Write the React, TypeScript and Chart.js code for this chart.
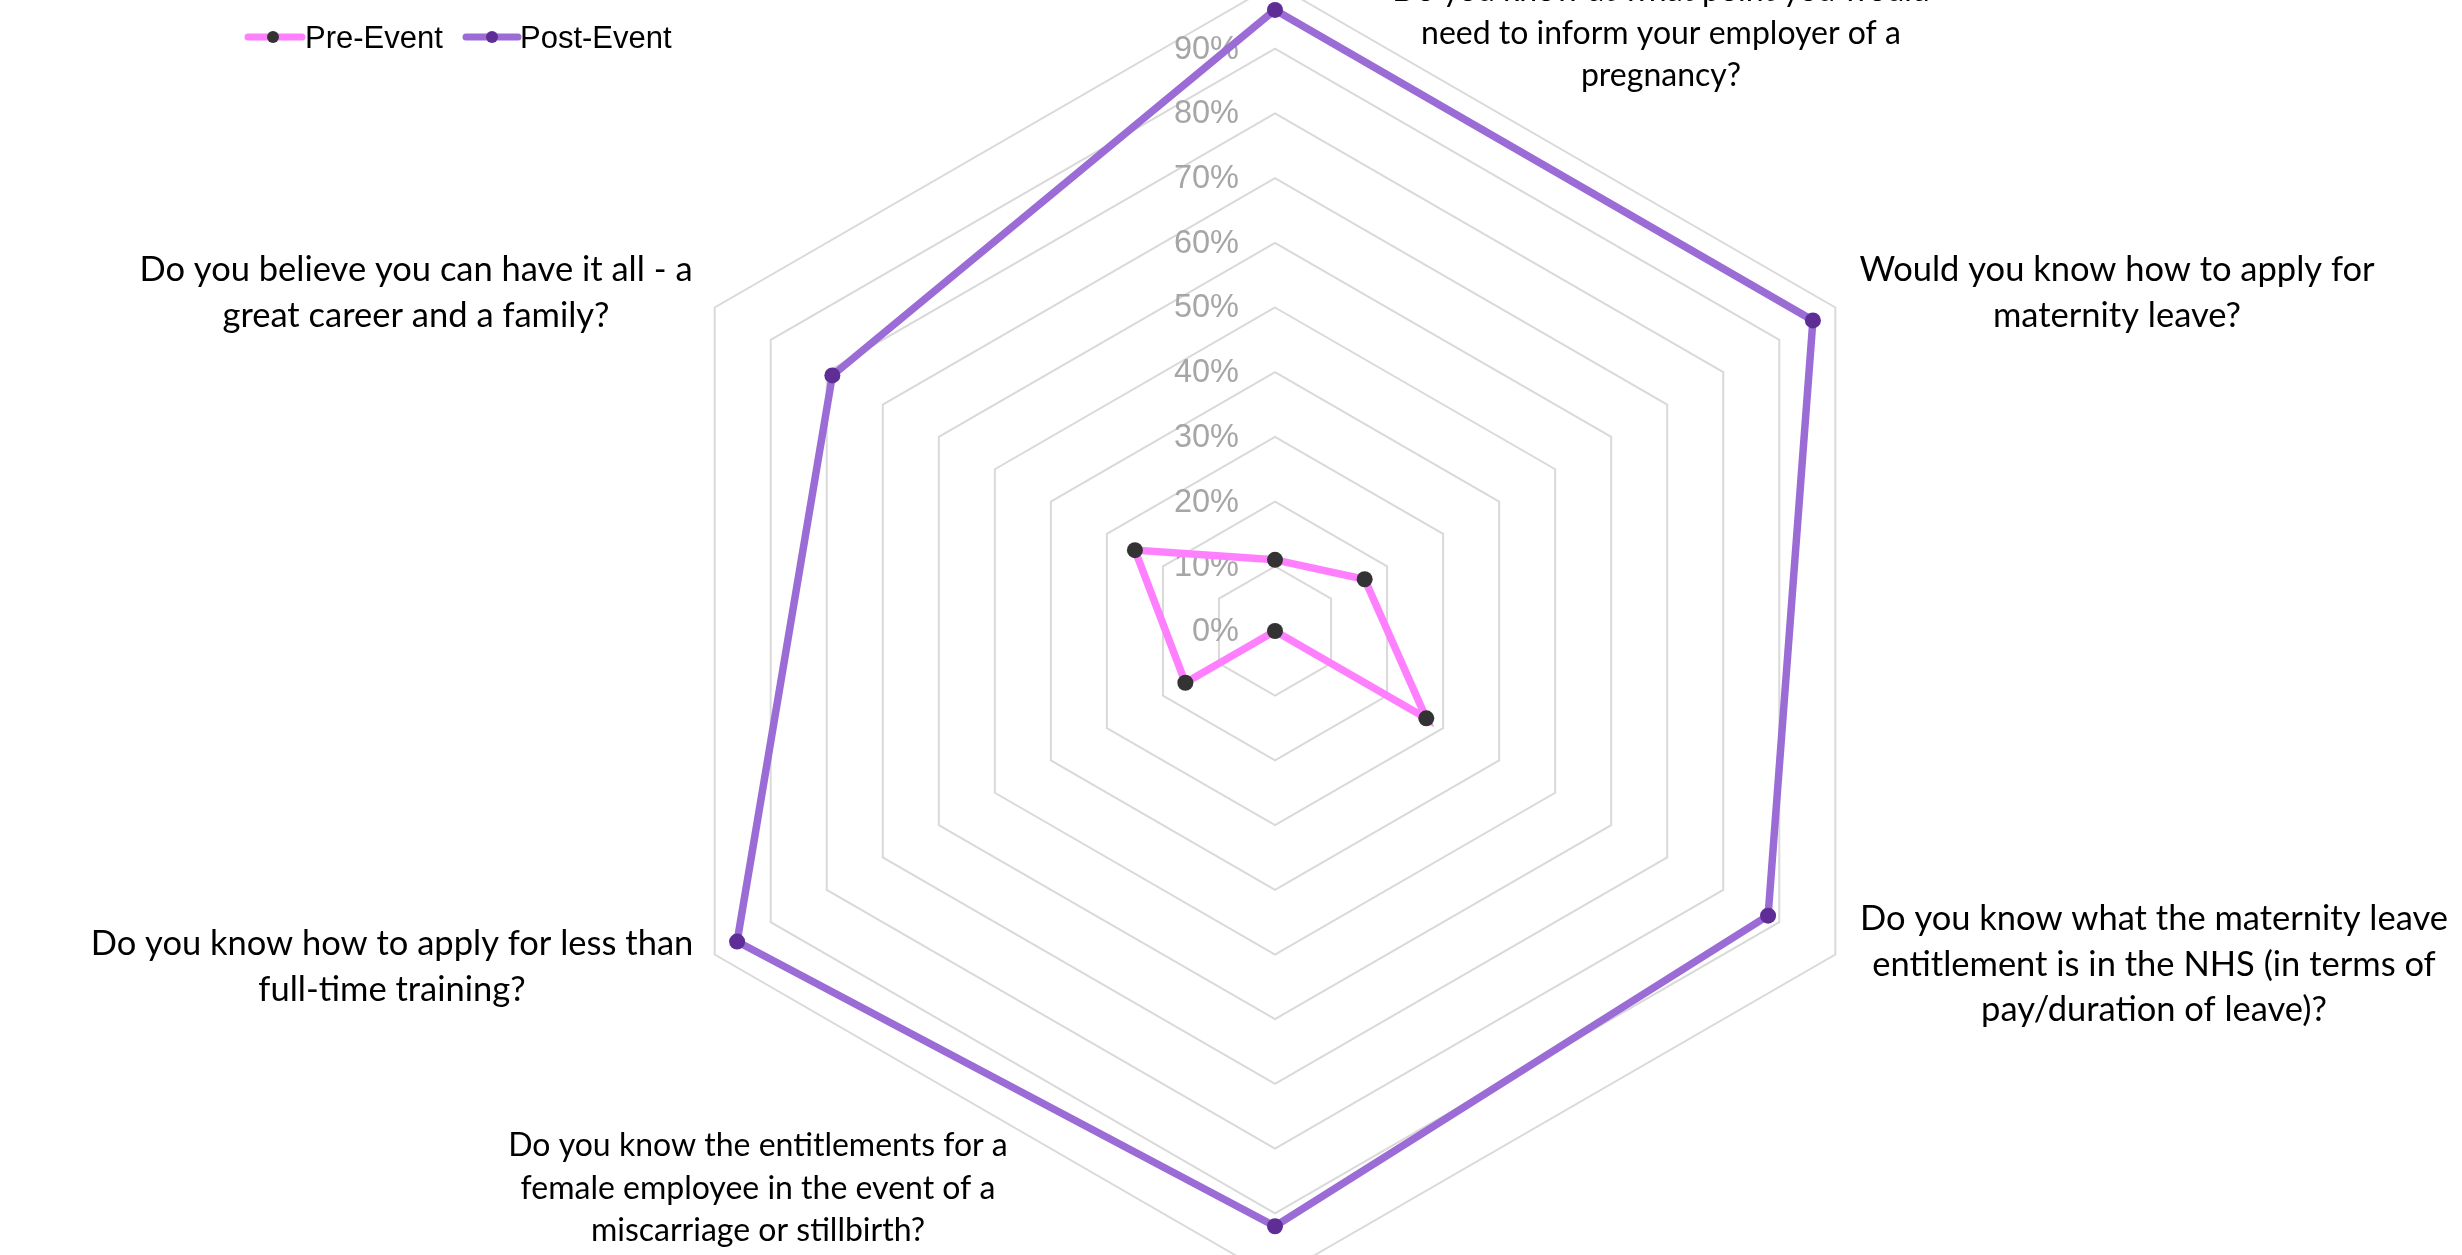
import React, { useEffect, useRef } from "react";
import { Chart, registerables } from "chart.js";

Chart.register(...registerables);

// ---- data ----
const CATEGORIES: string[][] = [
  ["Do you know at what point you would", "need to inform your employer of a", "pregnancy?"],
  ["Would you know how to apply for", "maternity leave?"],
  ["Do you know what the maternity leave", "entitlement is in the NHS (in terms of", "pay/duration of leave)?"],
  ["Do you know the entitlements for a", "female employee in the event of a", "miscarriage or stillbirth?"],
  ["Do you know how to apply for less than", "full-time training?"],
  ["Do you believe you can have it all - a", "great career and a family?"],
];
const SERIES_NAMES = ["Pre-Event", "Post-Event"];
const PRE_EVENT = [11, 16, 27, 0, 16, 25];
const POST_EVENT = [96, 96, 88, 92, 96, 79];
const AXIS_MIN = 0;
const AXIS_MAX = 100;
const AXIS_STEP = 10;

// ---- style / layout ----
const LINE_COLORS = ["#ff80ff", "#9b6bd6"];
const POINT_COLORS = ["#333333", "#5f2d96"];
const GRID_COLOR = "#d9d9d9";
const TICK_COLOR = "#a6a6a6";
// label anchors relative to the scale centre (px): centre x, first line y, line height, font size
const LABEL_LAYOUT = [
  { dx: 386, dy: -640, lh: 42.4, fs: 32 },
  { dx: 842, dy: -361, lh: 45.5, fs: 34.5 },
  { dx: 879, dy: 288, lh: 45.5, fs: 34.5 },
  { dx: -517, dy: 515, lh: 42.5, fs: 32 },
  { dx: -883, dy: 313, lh: 45.5, fs: 34.5 },
  { dx: -859, dy: -361, lh: 45.5, fs: 34.5 },
];
const CANVAS_W = 2550;
const CANVAS_H = 1294;
const CANVAS_TOP = -16;
const LEGEND_Y = 37 - CANVAS_TOP;
const LEGEND_ITEMS = [
  { x0: 248, x1: 302, dot: 273, text: 305 },
  { x0: 466, x1: 518, dot: 492, text: 520 },
];

const tickLabelPlugin = {
  id: "tickLabelsLeft",
  beforeDatasetsDraw(chart: any) {
    const s = chart.scales.r;
    const ctx = chart.ctx;
    ctx.save();
    ctx.font = '32.5px "Liberation Sans", Arial, sans-serif';
    ctx.fillStyle = TICK_COLOR;
    ctx.textAlign = "right";
    ctx.textBaseline = "middle";
    s.ticks.forEach((t: any) => {
      const d = s.getDistanceFromCenterForValue(t.value);
      ctx.fillText(`${t.value}%`, s.xCenter - 36, s.yCenter - d + 1);
    });
    ctx.restore();
  },
};

const pointLabelPlugin = {
  id: "pointLabelsCustom",
  afterDraw(chart: any) {
    const s = chart.scales.r;
    const ctx = chart.ctx;
    ctx.save();
    ctx.fillStyle = "#000000";
    ctx.textAlign = "center";
    ctx.textBaseline = "middle";
    (chart.data.labels as string[][]).forEach((lines, i) => {
      const p = LABEL_LAYOUT[i];
      ctx.font = `${p.fs}px "Lato", "Open Sans", sans-serif`;
      lines.forEach((line, k) => {
        ctx.fillText(line, s.xCenter + p.dx, s.yCenter + p.dy + k * p.lh);
      });
    });
    ctx.restore();
  },
};

const legendPlugin = {
  id: "legendCustom",
  afterDraw(chart: any) {
    const ctx = chart.ctx;
    ctx.save();
    ctx.font = '31px "Liberation Sans", Arial, sans-serif';
    ctx.textAlign = "left";
    ctx.textBaseline = "middle";
    chart.data.datasets.forEach((ds: any, i: number) => {
      const it = LEGEND_ITEMS[i];
      ctx.strokeStyle = ds.borderColor;
      ctx.lineWidth = 7;
      ctx.lineCap = "round";
      ctx.beginPath();
      ctx.moveTo(it.x0, LEGEND_Y);
      ctx.lineTo(it.x1, LEGEND_Y);
      ctx.stroke();
      ctx.fillStyle = ds.pointBackgroundColor;
      ctx.beginPath();
      ctx.arc(it.dot, LEGEND_Y, 6, 0, Math.PI * 2);
      ctx.fill();
      ctx.fillStyle = "#000000";
      ctx.fillText(ds.label, it.text, LEGEND_Y + 2);
    });
    ctx.restore();
  },
};

export default function App() {
  const ref = useRef<HTMLCanvasElement | null>(null);
  useEffect(() => {
    if (!ref.current) return;
    const chart = new Chart(ref.current, {
      type: "radar",
      data: {
        labels: CATEGORIES,
        datasets: [PRE_EVENT, POST_EVENT].map((vals, i) => ({
          label: SERIES_NAMES[i],
          data: vals,
          borderColor: LINE_COLORS[i],
          backgroundColor: LINE_COLORS[i],
          borderWidth: 7.5,
          fill: false,
          tension: 0,
          pointRadius: 8,
          pointHoverRadius: 8,
          pointBorderWidth: 0,
          pointBackgroundColor: POINT_COLORS[i],
          pointBorderColor: POINT_COLORS[i],
        })),
      },
      options: {
        responsive: false,
        maintainAspectRatio: false,
        animation: false,
        events: [],
        layout: { padding: 0 },
        plugins: {
          legend: { display: false },
          tooltip: { enabled: false },
          title: { display: false },
        },
        scales: {
          r: {
            min: AXIS_MIN,
            max: AXIS_MAX,
            ticks: { display: false, stepSize: AXIS_STEP },
            grid: { color: GRID_COLOR, lineWidth: 2, circular: false },
            angleLines: { display: false },
            pointLabels: { display: false },
          },
        },
      },
      plugins: [tickLabelPlugin, pointLabelPlugin, legendPlugin],
    } as any);
    return () => chart.destroy();
  }, []);

  return (
    <div
      style={{
        position: "fixed",
        left: 0,
        top: 0,
        width: 2462,
        height: 1255,
        overflow: "hidden",
        background: "#ffffff",
      }}
    >
      <canvas
        ref={ref}
        width={CANVAS_W}
        height={CANVAS_H}
        style={{ position: "absolute", left: 0, top: CANVAS_TOP, width: CANVAS_W, height: CANVAS_H }}
      />
    </div>
  );
}
